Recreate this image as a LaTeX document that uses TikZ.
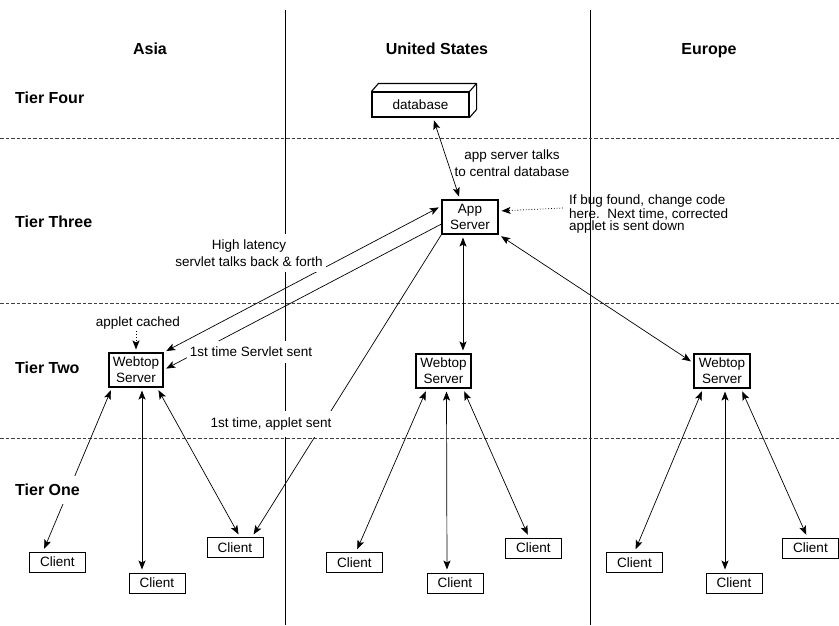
\documentclass[tikz,border=0pt]{standalone}
\usepackage{fontspec}
\setmainfont{Liberation Sans}
\usetikzlibrary{arrows.meta}

\tikzset{
  hdr/.style={font=\fontsize{16}{18}\selectfont\bfseries},
  region/.style={hdr, anchor=base},
  tier/.style={hdr, anchor=west, fill=white, inner xsep=2pt, inner ysep=8pt},
  lbl/.style={font=\fontsize{13.5}{16}\selectfont, align=center},
  note/.style={lbl, fill=white, inner xsep=3pt, inner ysep=6pt},
  srv/.style={draw, fill=white, line width=1.1pt, lbl, minimum width=55pt, minimum height=34pt, inner sep=1pt},
  clientbox/.style={draw, fill=white, line width=1pt, lbl, minimum width=56pt, minimum height=20pt, inner sep=1pt},
  divider/.style={line width=1pt},
  tierline/.style={line width=0.9pt, dash pattern=on 3.5pt off 2pt, black!75},
  tip/.tip={Stealth[length=9pt,width=7pt,inset=2pt]},
  link/.style={line width=0.7pt, tip-tip, shorten <=3pt, shorten >=3pt},
  oneway/.style={line width=0.7pt, -tip, shorten >=3pt},
  hint/.style={line width=0.8pt, dotted, -tip, shorten >=3pt},
}

\begin{document}
\begin{tikzpicture}[x=1pt,y=-1pt]
  \useasboundingbox (0,0) rectangle (839,625);
  \fill[white] (0,0) rectangle (839,625);

  % region dividers and tier boundaries
  \draw[divider] (285,10) -- (285,625);
  \draw[divider] (590,10) -- (590,625);
  \draw[tierline] (0,138) -- (839,138);
  \draw[tierline] (0,303) -- (839,303);
  \draw[tierline] (0,438) -- (839,438);

  % region headers
  \node[region] (asia) at (150,54) {Asia};
  \node[region] (us) at (437,54) {United States};
  \node[region] (europe) at (709,54) {Europe};

  % central database (3D box)
  \node[draw, fill=white, line width=1.1pt, lbl, minimum width=97pt, minimum height=25pt, inner sep=1pt] (db) at (420.5,104.5) {database};
  \draw[line width=1.1pt, line join=round] (db.north west) -- ++(7,-8) -- ([shift={(7pt,8pt)}]db.north east) -- ([shift={(7pt,8pt)}]db.south east) -- (db.south east);
  \draw[line width=1.1pt] ([shift={(7pt,8pt)}]db.north east) -- (db.north east);

  % servers
  \node[srv, minimum width=56pt] (app) at (470,217) {App\\Server};
  \node[srv, minimum width=54pt] (aw) at (136,370) {Webtop\\Server};
  \node[srv] (uw) at (443.5,371) {Webtop\\Server};
  \node[srv, minimum width=56pt] (ew) at (722,371) {Webtop\\Server};

  % clients
  \node[clientbox] (ac1) at (57.5,562) {Client};
  \node[clientbox] (ac2) at (157,583) {Client};
  \node[clientbox] (ac3) at (235,547.5) {Client};
  \node[clientbox] (uc1) at (354.5,562.5) {Client};
  \node[clientbox] (uc2) at (455,583) {Client};
  \node[clientbox] (uc3) at (533.5,548) {Client};
  \node[clientbox] (ec1) at (634.5,562.5) {Client};
  \node[clientbox] (ec2) at (734,583) {Client};
  \node[clientbox] (ec3) at (810.5,548) {Client};

  % app server links
  \draw[link] ([xshift=12.5pt]db.south) -- ([xshift=-10pt]app.north);
  \draw[link] ([xshift=-7pt]app.south) -- ([xshift=19.5pt]uw.north);
  \draw[link] (app.south east) -- ([yshift=8pt]ew.west);
  \draw[link] ([yshift=11pt]app.west) -- (aw.north east);
  \draw[oneway] ([yshift=-7pt]app.west) -- (aw.east);
  \draw[oneway] (app.south west) -- ([xshift=17pt]ac3.north);

  % webtop to client links
  \draw[link] ([xshift=-24pt]aw.south) -- ([xshift=-14.5pt]ac1.north);
  \draw[link] ([xshift=6pt]aw.south) -- ([xshift=-15pt]ac2.north);
  \draw[link] ([xshift=21pt]aw.south) -- ([xshift=5pt]ac3.north);
  \draw[link] ([xshift=-16.5pt]uw.south) -- ([xshift=1.5pt]uc1.north);
  \draw[link] ([xshift=3pt]uw.south) -- ([xshift=-8pt]uc2.north);
  \draw[link] ([xshift=19.5pt]uw.south) -- ([xshift=-4.5pt]uc3.north);
  \draw[link] ([xshift=-19pt]ew.south) -- (ec1.north);
  \draw[link] ([xshift=3pt]ew.south) -- ([xshift=-9pt]ec2.north);
  \draw[link] ([xshift=19pt]ew.south) -- ([xshift=-3pt]ec3.north);

  % annotations
  \node[lbl, font=\fontsize{13.5}{17}\selectfont] (talks) at (512,163) {app server talks\\to central database};
  \node[lbl, font=\fontsize{13.5}{12.5}\selectfont, align=left, anchor=west, inner sep=0pt] (bugnote) at (569,214) {If bug found, change code\\here.\ \ Next time, corrected\\applet is sent down};
  \coordinate (bugtail) at (563,208);
  \draw[hint] (bugtail) -- ([yshift=6pt]app.east);

  \node[lbl, inner sep=1pt] (cached) at (138,323) {applet cached};
  \draw[hint] ([yshift=-1pt]cached.south -| aw.north) -- (aw.north);

  \node[note, font=\fontsize{13.5}{17}\selectfont] (latency) at (249,253) {High latency\\servlet talks back \& forth};
  \node[note] (servlet) at (251,352) {1st time Servlet sent};
  \node[note, inner ysep=7pt] (appletsent) at (271,424) {1st time, applet sent};

  % tier labels
  \node[tier] (t4) at (13,98) {Tier Four};
  \node[tier] (t3) at (13,222) {Tier Three};
  \node[tier] (t2) at (13,368) {Tier Two};
  \node[tier] (t1) at (13,490) {Tier One};
\end{tikzpicture}
\end{document}
